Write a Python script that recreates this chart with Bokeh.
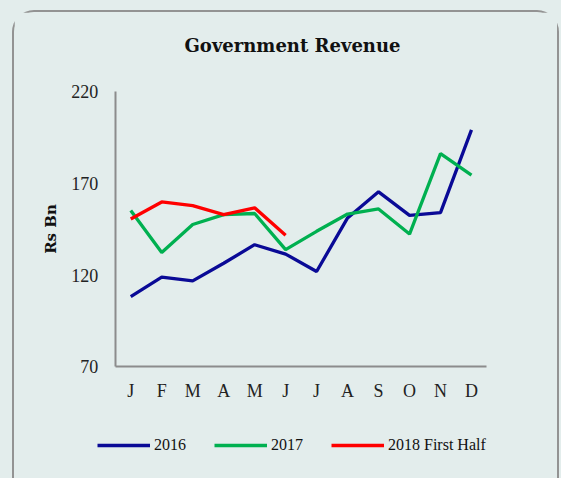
from bokeh.plotting import figure
from bokeh.models import FixedTicker, Legend, LegendItem, LinearAxis
from bokeh.embed import file_html
from bokeh.resources import INLINE

months = ["J", "F", "M", "A", "M", "J", "J", "A", "S", "O", "N", "D"]
rev_2016 = [108.3, 118.9, 116.9, 126.5, 136.6, 131.5, 122.0, 151.2, 165.4, 152.6, 154.1, 199.2]
rev_2017 = [155.2, 132.4, 147.6, 153.0, 153.6, 133.9, 143.9, 153.3, 156.1, 142.4, 186.2, 174.5]
rev_2018 = [150.6, 159.9, 157.9, 153.0, 156.7, 141.7]
y_ticks = [70, 120, 170, 220]

BG = "#E3EDEC"
SERIF = "Liberation Serif"
SERIF_B = "DejaVu Serif"

# frame covers the whole box below the title; axes sit at fixed positions inside it
p = figure(width=547, height=468, output_backend="svg", toolbar_location=None,
           x_range=(-3.753, 13.906), y_range=(8.14, 234.23),
           x_axis_location=None, y_axis_location=None,
           title="Government Revenue")
p.min_border_left = 0
p.min_border_right = 0
p.min_border_top = 53
p.min_border_bottom = 0
p.background_fill_color = BG
p.border_fill_color = BG
p.outline_line_color = None
p.grid.visible = False
p.styles = {"border": "2px solid #939393", "border-bottom": "none",
            "border-radius": "22px 22px 0 0",
            "margin-left": "12px", "margin-top": "10px",
            "background-color": BG}

p.title.align = "left"
p.title.offset = 170
p.title.text_font = SERIF_B
p.title.text_font_size = "18px"
p.title.text_font_style = "bold"
p.title.text_color = "#111111"
p.title.standoff = 20

xs = list(range(len(months)))
xaxis = LinearAxis(fixed_location=70, bounds=(-0.5, 11.5),
                   ticker=FixedTicker(ticks=xs),
                   major_label_overrides={i: m for i, m in enumerate(months)})
yaxis = LinearAxis(fixed_location=-0.5, bounds=(70, 220),
                   ticker=FixedTicker(ticks=y_ticks), axis_label="Rs Bn")
for ax in (xaxis, yaxis):
    ax.axis_line_color = "#8c8c8c"
    ax.axis_line_width = 2
    ax.major_tick_line_color = None
    ax.minor_tick_line_color = None
    ax.major_label_text_font = SERIF
    ax.major_label_text_font_size = "18px"
    ax.major_label_text_color = "#222222"
xaxis.major_label_standoff = 8
yaxis.major_label_standoff = 11
yaxis.axis_label_text_font = SERIF_B
yaxis.axis_label_text_font_size = "15px"
yaxis.axis_label_text_font_style = "bold"
yaxis.axis_label_text_color = "#111111"
yaxis.axis_label_standoff = 9
p.add_layout(xaxis, "below")
p.add_layout(yaxis, "left")

r16 = p.line(xs, rev_2016, line_color="#0A0A96", line_width=3.3)
r17 = p.line(xs, rev_2017, line_color="#00B050", line_width=3.3)
r18 = p.line(xs[:len(rev_2018)], rev_2018, line_color="#FF0000", line_width=3.3)

legend = Legend(items=[LegendItem(label="2016", renderers=[r16]),
                       LegendItem(label="2017", renderers=[r17]),
                       LegendItem(label="2018 First Half", renderers=[r18])],
                location=(83, 25), orientation="horizontal",
                background_fill_alpha=0, border_line_color=None,
                glyph_width=53, label_standoff=4, spacing=28, padding=0, margin=0,
                label_text_font=SERIF, label_text_font_size="16px",
                label_text_color="#111111")
p.add_layout(legend, "center")

html = file_html(p, INLINE)
html = html.replace("</head>",
                    "<style>html, body { background-color: %s !important; }</style></head>" % BG, 1)
open("out.html", "w").write(html)
